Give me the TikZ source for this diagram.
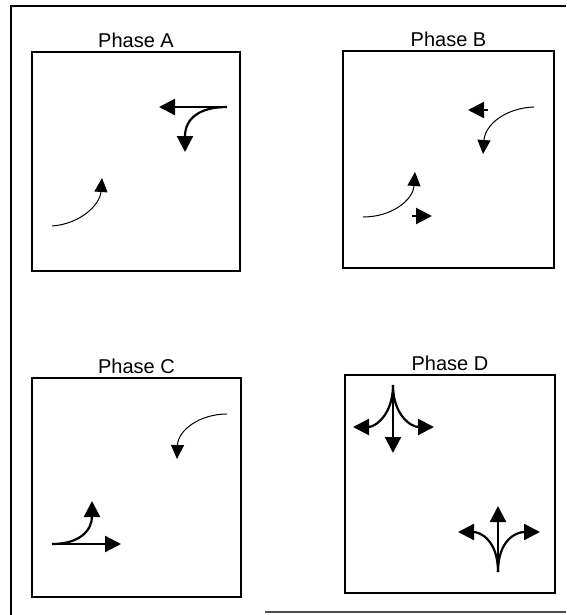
\documentclass[tikz,border=0pt]{standalone}
\usepackage{fontspec}
\setmainfont{Liberation Sans}
\usepackage{tikz}
\usetikzlibrary{positioning,arrows.meta}
\tikzset{
  panel/.style={draw=black, line width=1.5pt, minimum width=#1, inner sep=0pt},
  ptitle/.style={font=\fontsize{20}{22}\selectfont, inner sep=1pt},
  frame/.style={draw=black, line width=1.6pt},
  mov/.style={-{Triangle[length=16pt, width=16pt]}, line width=2.2pt, draw=black},
  movthin/.style={-{Triangle[length=14pt, width=13pt]}, line width=1pt, draw=black},
}

\begin{document}
\begin{tikzpicture}[x=1pt, y=-1pt]
  \useasboundingbox (0,0) rectangle (566,615);
  % outer frame (cut at right side)
  \draw[frame] (11,615) -- (11,6) -- (566,6);
  \draw[frame, draw=black!70] (265,612) -- (566,612);

  \node[panel=208pt, minimum height=219pt] (A) at (136,161.5) {};
  \node[panel=211pt, minimum height=217pt] (B) at (448.5,159.5) {};
  \node[panel=209pt, minimum height=219pt] (C) at (136.5,487.5) {};
  \node[panel=210pt, minimum height=218pt] (D) at (450,484) {};
  \node[ptitle, above=2pt of A] (lA) {Phase A};
  \node[ptitle, above=2pt of B] (lB) {Phase B};
  \node[ptitle, above=2pt of C] (lC) {Phase C};
  \node[ptitle, above=2pt of D] (lD) {Phase D};

  % Phase A
  \coordinate (a1) at (227,107);
  \coordinate (a2) at (159,107);
  \coordinate (a3) at (185,152);
  \coordinate (a4) at (52,226);
  \coordinate (a5) at (102,178);
  \draw[mov] (a1) -- (a2);
  \draw[mov] (a1) .. controls (200,107) and (185,118) .. (a3);
  \draw[movthin] (a4) .. controls (80,224) and (100,205) .. (a5);

  % Phase B
  \coordinate (b1) at (488,110);
  \coordinate (b2) at (468,110);
  \coordinate (b3) at (534,107);
  \coordinate (b4) at (483,154);
  \coordinate (b5) at (363,217);
  \coordinate (b6) at (415,172);
  \coordinate (b7) at (412,216);
  \coordinate (b8) at (432,216);
  \draw[mov] (b1) -- (b2);
  \draw[movthin] (b3) .. controls (505,108) and (485,125) .. (b4);
  \draw[movthin] (b5) .. controls (392,217) and (413,200) .. (b6);
  \draw[mov] (b7) -- (b8);

  % Phase C
  \coordinate (c1) at (227,414);
  \coordinate (c2) at (177,459);
  \coordinate (c3) at (52,544);
  \coordinate (c4) at (121,544);
  \coordinate (c5) at (92,501);
  \draw[movthin] (c1) .. controls (200,414) and (178,430) .. (c2);
  \draw[mov] (c3) -- (c4);
  \draw[mov] (c3) .. controls (80,544) and (92,530) .. (c5);

  % Phase D
  \coordinate (d0) at (393,385);
  \coordinate (d1) at (393,453);
  \coordinate (d2) at (353,427);
  \coordinate (d3) at (434,427);
  \draw[mov] (d0) -- (d1);
  \draw[mov] (d0) .. controls (393,415) and (375,427) .. (d2);
  \draw[mov] (d0) .. controls (393,415) and (411,427) .. (d3);
  \coordinate (e0) at (498,572);
  \coordinate (e1) at (498,506);
  \coordinate (e2) at (458,532);
  \coordinate (e3) at (540,532);
  \draw[mov] (e0) -- (e1);
  \draw[mov] (e0) .. controls (498,540) and (480,532) .. (e2);
  \draw[mov] (e0) .. controls (498,540) and (516,532) .. (e3);
\end{tikzpicture}
\end{document}
